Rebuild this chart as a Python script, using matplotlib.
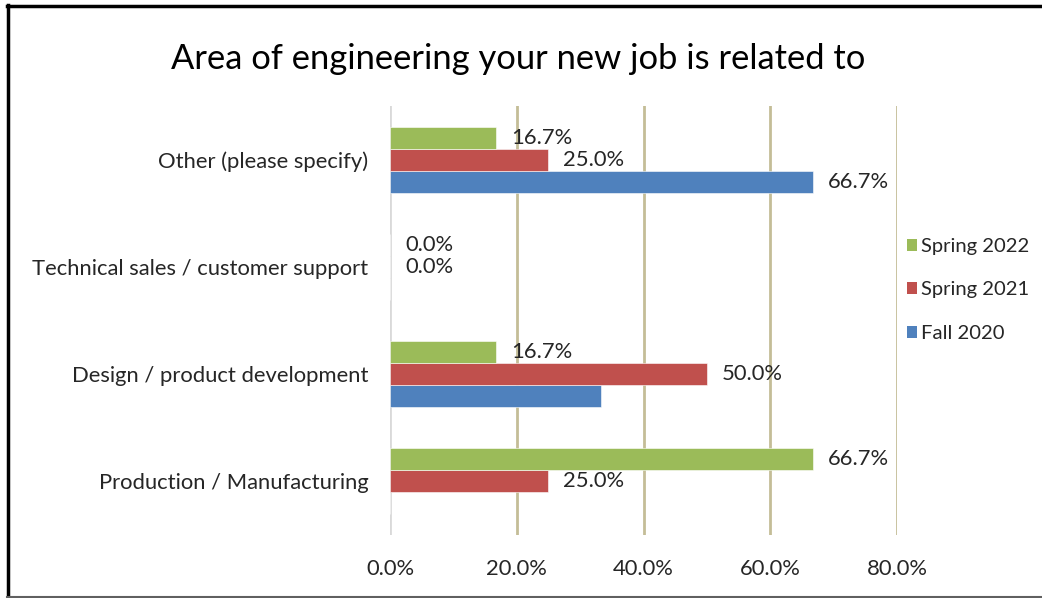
import matplotlib
matplotlib.use("Agg")
import matplotlib.pyplot as plt
from matplotlib.lines import Line2D
from matplotlib.patches import Patch
import numpy as np

plt.rcParams['font.family'] = ['Lato', 'DejaVu Sans']

categories = ["Production / Manufacturing", "Design / product development",
              "Technical sales / customer support", "Other (please specify)"]
series_names = ["Fall 2020", "Spring 2021", "Spring 2022"]
fall_2020 = [0.0, 33.3, 0.0, 66.7]
spring_2021 = [25.0, 50.0, 0.0, 25.0]
spring_2022 = [66.7, 16.7, 0.0, 16.7]
# which bars carry a value label
fall_2020_labeled = [False, False, False, True]
spring_2021_labeled = [True, True, True, True]
spring_2022_labeled = [True, True, True, True]
x_ticks = [0, 20, 40, 60, 80]

colors = ["#4F81BD", "#C0504D", "#9BBB59"]
text_color = "#262626"
grid_color = "#C4BD97"
fs = 15.8

fig = plt.figure(figsize=(10.42, 5.98), dpi=100)
ax = fig.add_axes([390 / 1042, 1 - 535 / 598, (897 - 390) / 1042, (535 - 106) / 598])

y = np.arange(len(categories))
h = 0.205
series = [fall_2020, spring_2021, spring_2022]
labeled = [fall_2020_labeled, spring_2021_labeled, spring_2022_labeled]
offsets = [-h, 0, h]

for vals, flags, off, col in zip(series, labeled, offsets, colors):
    ax.barh(y + off, vals, height=h, color=col, edgecolor="white", linewidth=0.4, zorder=3)
    for yi, v, f in zip(y, vals, flags):
        if f:
            ax.annotate(f"{v:.1f}%", xy=(v, yi + off), xytext=(15, 0),
                        textcoords="offset pixels",
                        va="center", ha="left", fontsize=fs, color=text_color, zorder=4)

ax.set_xlim(0, 80)
ax.set_ylim(-0.5, len(categories) - 0.5)
ax.set_xticks(x_ticks)
ax.set_xticklabels([f"{t:.1f}%" for t in x_ticks], fontsize=fs, color=text_color)
ax.set_yticks(y)
ax.set_yticklabels(categories, fontsize=fs, color=text_color)
ax.tick_params(axis="both", length=0)
ax.tick_params(axis="x", pad=17)
ax.tick_params(axis="y", pad=15.5)

for t in x_ticks[1:]:
    ax.axvline(t, color=grid_color, linewidth=2, zorder=1)
ax.axvline(0, color="#D9D9D9", linewidth=2, zorder=2)
for s in ax.spines.values():
    s.set_visible(False)

fig.text(518 / 1042, 1 - 59 / 598, "Area of engineering your new job is related to",
         ha="center", va="center", fontsize=24.8, color="black")

handles = [Patch(facecolor=colors[2], edgecolor="none"),
           Patch(facecolor=colors[1], edgecolor="none"),
           Patch(facecolor=colors[0], edgecolor="none")]
leg = fig.legend(handles, ["Spring 2022", "Spring 2021", "Fall 2020"],
                 loc="center left", bbox_to_anchor=(907 / 1042, 1 - 290 / 598),
                 frameon=False, fontsize=14.6, handlelength=0.5, handleheight=0.55,
                 handletextpad=0.2, labelspacing=1.3, borderaxespad=0, borderpad=0)
for t in leg.get_texts():
    t.set_color(text_color)

# chart frame
fig.add_artist(Line2D([8 / 1042, 8 / 1042], [0, 1 - 5 / 598], color="black", linewidth=2.5))
fig.add_artist(Line2D([7 / 1042, 1], [1 - 6 / 598, 1 - 6 / 598], color="black", linewidth=2.5))
fig.add_artist(Line2D([7 / 1042, 1], [1.5 / 598, 1.5 / 598], color="#606060", linewidth=1.5))

fig.savefig("out.png", dpi=100, facecolor="white")
